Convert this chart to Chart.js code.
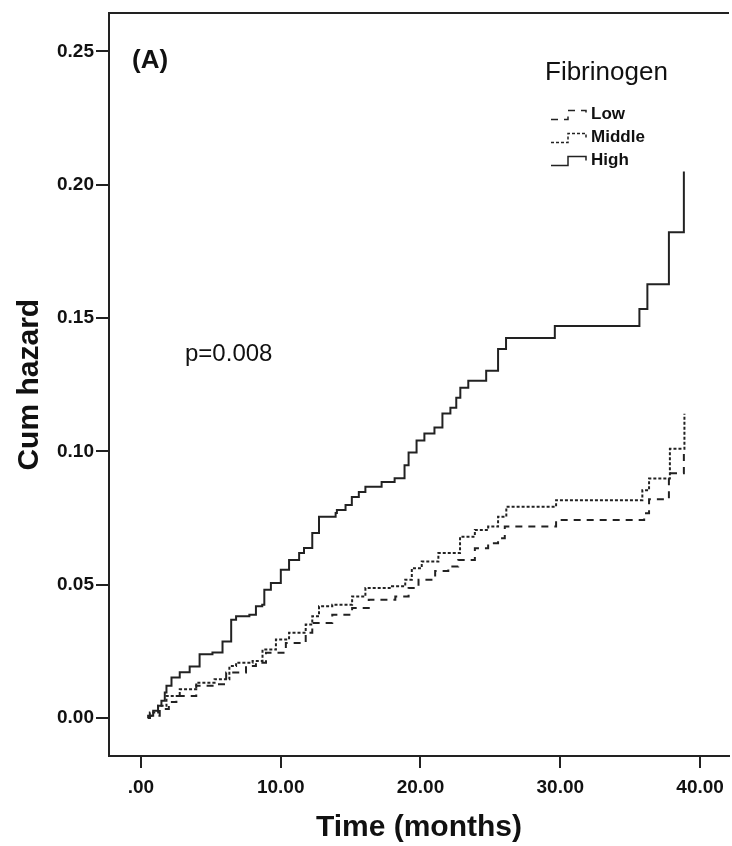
<!DOCTYPE html>
<html>
<head>
<meta charset="utf-8">
<script src="https://cdn.jsdelivr.net/npm/chart.js@4.4.1/dist/chart.umd.min.js"></script>
<style>
    html, body { margin: 0; padding: 0; background: #fff; }
    #wrap { width: 732px; height: 846px; }
</style>
</head>
<body>
<div id="wrap"><canvas id="chart" width="732" height="846"></canvas></div>
<script>
// ---- axis ticks ----
const xTicks = [0, 10, 20, 30, 40];
const xTickLabels = [".00", "10.00", "20.00", "30.00", "40.00"];
const yTicks = [0, 0.05, 0.10, 0.15, 0.20, 0.25];
const yTickLabels = ["0.00", "0.05", "0.10", "0.15", "0.20", "0.25"];

// ---- cumulative hazard (time in months) ----
const lowTime = [0.5, 0.64, 1.35, 2.0, 2.54, 3.96, 5.27, 6.10, 7.52, 8.23, 8.95, 10.37, 11.79, 12.26, 13.69, 15.11, 16.30, 18.20, 19.15, 19.86, 21.05, 21.99, 22.70, 23.89, 24.84, 25.55, 26.03, 29.70, 36.00, 36.35, 37.77, 38.84];
const lowHazard = [0, 0.0009, 0.0034, 0.0060, 0.0083, 0.0121, 0.0127, 0.0171, 0.0195, 0.0208, 0.0245, 0.0282, 0.0320, 0.0357, 0.0388, 0.0413, 0.0444, 0.0456, 0.0488, 0.0519, 0.0552, 0.0568, 0.0593, 0.0637, 0.0656, 0.0674, 0.0718, 0.0743, 0.0768, 0.0821, 0.0918, 0.1010];

const midTime = [0.5, 0.64, 1.23, 1.83, 2.78, 3.96, 5.27, 6.33, 6.81, 7.99, 8.70, 9.66, 10.60, 11.79, 12.26, 12.74, 13.69, 15.11, 16.06, 17.96, 18.91, 19.38, 20.09, 21.28, 22.83, 23.89, 24.84, 25.55, 26.14, 29.70, 35.87, 36.35, 37.84, 38.88];
const midHazard = [0, 0.0021, 0.0046, 0.0083, 0.0108, 0.0133, 0.0146, 0.0195, 0.0208, 0.0214, 0.0257, 0.0295, 0.0320, 0.0351, 0.0382, 0.0419, 0.0425, 0.0456, 0.0488, 0.0494, 0.0519, 0.0562, 0.0587, 0.0619, 0.0680, 0.0705, 0.0718, 0.0755, 0.0792, 0.0817, 0.0854, 0.0898, 0.1010, 0.1141];

const highTime = [0.5, 0.52, 0.88, 1.23, 1.47, 1.71, 1.83, 2.19, 2.78, 3.49, 4.20, 5.12, 5.84, 6.46, 6.81, 7.76, 8.23, 8.68, 8.83, 9.30, 10.01, 10.60, 11.32, 11.67, 12.26, 12.74, 13.93, 14.02, 14.64, 15.09, 15.59, 16.06, 17.22, 18.15, 18.86, 19.15, 19.72, 20.28, 21.00, 21.57, 22.14, 22.56, 22.85, 23.42, 24.70, 25.55, 26.12, 29.61, 35.66, 36.23, 37.77, 38.84];
const highHazard = [0, 0.0009, 0.0028, 0.0046, 0.0065, 0.0096, 0.0121, 0.0152, 0.0172, 0.0194, 0.0239, 0.0246, 0.0287, 0.0369, 0.0382, 0.0388, 0.0419, 0.0425, 0.0481, 0.0507, 0.0556, 0.0593, 0.0619, 0.0638, 0.0694, 0.0755, 0.0769, 0.0780, 0.0799, 0.0829, 0.0848, 0.0867, 0.0885, 0.0899, 0.0948, 0.0996, 0.1041, 0.1067, 0.1090, 0.1142, 0.1164, 0.1201, 0.1239, 0.1265, 0.1302, 0.1384, 0.1425, 0.1470, 0.1534, 0.1627, 0.1822, 0.2049];

const groupNames = ["Low", "Middle", "High"];
const legendTitle = "Fibrinogen";
const panelLabel = "(A)";
const pValueText = "p=0.008";

const toPoints = (t, h) => t.map((v, i) => ({ x: v, y: h[i] }));

const ink = "#222";
const fontFamily = '"Liberation Sans", Arial, sans-serif';

// panel label, p value and the step-style legend
const annotations = {
    id: "annotations",
    afterDraw(chart) {
        const { ctx, chartArea } = chart;
        const L = chartArea.left, T = chartArea.top;
        ctx.save();
        ctx.fillStyle = "#111";
        ctx.textBaseline = "middle";
        ctx.textAlign = "left";

        ctx.font = "bold 26px " + fontFamily;
        ctx.fillText(panelLabel, L + 23, T + 47);

        ctx.font = "24px " + fontFamily;
        ctx.fillText(pValueText, L + 76, T + 341);

        ctx.font = "26px " + fontFamily;
        ctx.fillText(legendTitle, L + 436, T + 59);

        chart.data.datasets.forEach((ds, i) => {
            const cy = T + 101 + i * 23;
            ctx.strokeStyle = ds.borderColor;
            ctx.lineWidth = 1.5;
            ctx.setLineDash(ds.borderDash || []);
            ctx.beginPath();
            ctx.moveTo(L + 442, cy + 5);
            ctx.lineTo(L + 459, cy + 5);
            ctx.lineTo(L + 459, cy - 4);
            ctx.lineTo(L + 477, cy - 4);
            ctx.lineTo(L + 477, cy);
            ctx.stroke();
            ctx.setLineDash([]);
            ctx.font = "bold 17px " + fontFamily;
            ctx.fillText(ds.label, L + 482, cy);
        });
        ctx.restore();
    }
};

new Chart(document.getElementById("chart"), {
    type: "line",
    data: {
        datasets: [
            {
                label: groupNames[0],
                data: toPoints(lowTime, lowHazard),
                borderColor: ink,
                borderWidth: 2,
                borderDash: [7, 6],
                stepped: "before",
                pointRadius: 0
            },
            {
                label: groupNames[1],
                data: toPoints(midTime, midHazard),
                borderColor: ink,
                borderWidth: 2,
                borderDash: [3, 2],
                stepped: "before",
                pointRadius: 0
            },
            {
                label: groupNames[2],
                data: toPoints(highTime, highHazard),
                borderColor: ink,
                borderWidth: 2,
                stepped: "before",
                pointRadius: 0
            }
        ]
    },
    options: {
        responsive: false,
        animation: false,
        devicePixelRatio: 1,
        layout: { padding: 0 },
        plugins: {
            legend: { display: false },
            tooltip: { enabled: false }
        },
        scales: {
            x: {
                type: "linear",
                position: "bottom",
                min: -2.28,
                max: 42.06,
                afterBuildTicks: s => { s.ticks = xTicks.map(v => ({ value: v })); },
                afterFit: s => { s.height = 90; },
                ticks: {
                    color: "#111",
                    padding: 8,
                    maxRotation: 0,
                    font: { family: fontFamily, size: 19, weight: "bold" },
                    callback: (v) => xTickLabels[xTicks.indexOf(v)]
                },
                grid: {
                    drawOnChartArea: false,
                    drawTicks: true,
                    tickLength: 12,
                    color: ink,
                    lineWidth: 2
                },
                border: { display: true, color: ink, width: 2 },
                title: {
                    display: true,
                    text: "Time (months)",
                    color: "#111",
                    padding: { top: 0, bottom: 0 },
                    font: { family: fontFamily, size: 30, weight: "bold" }
                }
            },
            xTop: {
                type: "linear",
                position: "top",
                min: -2.28,
                max: 42.06,
                afterFit: s => { s.height = 11; },
                ticks: { display: false },
                grid: { display: false, drawTicks: false },
                border: { display: true, color: ink, width: 2 }
            },
            y: {
                type: "linear",
                min: -0.0142,
                max: 0.2642,
                afterBuildTicks: s => { s.ticks = yTicks.map(v => ({ value: v })); },
                afterFit: s => { s.width = 109; },
                ticks: {
                    color: "#111",
                    padding: 2,
                    font: { family: fontFamily, size: 19, weight: "bold" },
                    callback: (v) => yTickLabels[yTicks.findIndex(t => Math.abs(t - v) < 1e-9)]
                },
                grid: {
                    drawOnChartArea: false,
                    drawTicks: true,
                    tickLength: 13,
                    color: ink,
                    lineWidth: 2
                },
                border: { display: true, color: ink, width: 2 },
                title: {
                    display: true,
                    text: "Cum hazard",
                    color: "#111",
                    padding: { top: 12, bottom: 4 },
                    font: { family: fontFamily, size: 30, weight: "bold" }
                }
            }
        }
    },
    plugins: [annotations]
});
</script>
</body>
</html>
